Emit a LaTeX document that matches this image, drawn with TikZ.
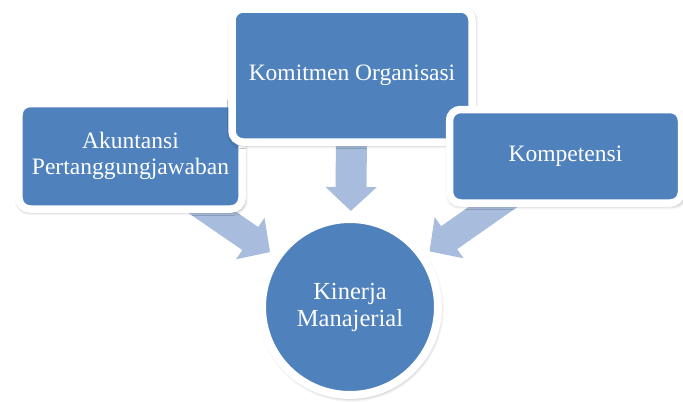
\documentclass[tikz,border=0pt]{standalone}
\usepackage{fontspec}
\setmainfont{Liberation Serif}
\usetikzlibrary{arrows.meta,shadows.blur}
\definecolor{boxblue}{HTML}{4F81BD}
\definecolor{arrowblue}{HTML}{A8BDDD}
\begin{document}
\begin{tikzpicture}[x=1bp,y=-1bp,
  softshadow/.style={blur shadow={shadow xshift=1bp, shadow yshift=-2bp, shadow scale=1.015, shadow blur radius=3.5bp, shadow opacity=42}},
  boxstyle/.style={draw=white, line width=7.5bp, fill=boxblue, rounded corners=11bp,
    text=white, align=center, inner sep=0pt,
    font=\fontsize{23.5bp}{26bp}\selectfont, softshadow},
  circstyle/.style={circle, draw=white, line width=8bp, fill=boxblue, minimum size=176bp,
    text=white, align=center, inner sep=0pt,
    font=\fontsize{24.5bp}{27bp}\selectfont, softshadow},
  flowarrow/.style={draw=arrowblue, line width=28bp,
    -{Triangle[length=24bp,width=49bp,fill=arrowblue]}, shorten >=97bp}
]
\useasboundingbox (0,0) rectangle (683,401);
% positions
\coordinate (pa) at (130.5,156.25);
\coordinate (pk) at (352,75.5);
\coordinate (pc) at (565.5,156.25);
\coordinate (pm) at (350,307);
% arrows (drawn first, under the shapes)
\draw[flowarrow] (pa) -- (pm);
\draw[flowarrow, line width=31bp, -{Triangle[length=24bp,width=50bp,fill=arrowblue]}, shorten >=96bp] (pk) -- (pm);
\draw[flowarrow] (pc) -- (pm);
% boxes
\node[boxstyle, minimum width=223bp, minimum height=105.5bp] (a) at (pa) {Akuntansi\\Pertanggungjawaban};
\node[boxstyle, minimum width=240bp, minimum height=133bp] (k) at (pk) {Komitmen Organisasi};
\node[boxstyle, minimum width=232bp, minimum height=93.5bp] (c) at (pc) {Kompetensi};
\node[circstyle] (m) at (pm) {Kinerja\\Manajerial};
\end{tikzpicture}
\end{document}
